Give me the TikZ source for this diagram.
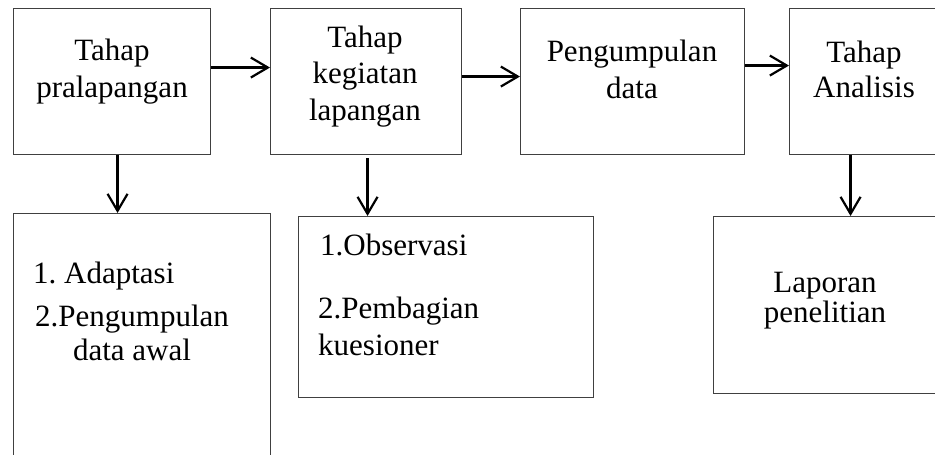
\documentclass[tikz,border=0pt]{standalone}
\usepackage{fontspec}
\setmainfont{Liberation Serif}
\usetikzlibrary{arrows.meta, positioning, calc}
\frenchspacing

\begin{document}
\begin{tikzpicture}[
    x=1pt, y=-1pt,
    box/.style={rectangle, draw=black!75, line width=1.1pt, inner sep=0pt, anchor=north west},
    txt/.style={inner sep=0pt, anchor=base, align=center, font=\fontsize{31}{37}\selectfont},
    ltxt/.style={txt, anchor=base west, align=left},
    arr/.style={-{Straight Barb[length=17pt, width=20pt]}, line width=2.2pt},
]
    \useasboundingbox (0,0) rectangle (935,455);
    \clip (0,0) rectangle (935,455);

    % Tahap (top row)
    \node[box, minimum width=197pt, minimum height=146pt] (pra) at (13,8) {};
    \node[box, minimum width=191pt, minimum height=146pt] (keg) at (270,8) {};
    \node[box, minimum width=224pt, minimum height=146pt] (kum) at (520,8) {};
    \node[box, minimum width=150pt, minimum height=146pt] (ana) at (789,8) {};

    % (base = last line)
    \node[txt] (praT) at (112,97) {Tahap\\pralapangan};
    \node[txt, font=\fontsize{31}{36.5}\selectfont] (kegT) at (365,120) {Tahap\\kegiatan\\lapangan};
    \node[txt] (kumT) at (632,98) {Pengumpulan\\data};
    \node[txt, font=\fontsize{31}{35}\selectfont] (anaT) at (864,97) {Tahap\\Analisis};

    % Hasil (bottom row)
    \node[box, minimum width=257pt, minimum height=260pt] (ada) at (13,213) {};
    \node[box, minimum width=295pt, minimum height=181pt] (obs) at (298,216) {};
    \node[box, minimum width=224pt, minimum height=177pt] (lap) at (713,216) {};

    \node[ltxt] (adaA) at (33,283) {1. Adaptasi};
    \node[txt, font=\fontsize{31}{34}\selectfont] (adaB) at (132,360) {2.Pengumpulan\\data awal};
    \node[ltxt] (obsA) at (320,255) {1.Observasi};
    \node[ltxt] (obsB) at (318,355) {2.Pembagian\\kuesioner};
    \node[txt, font=\fontsize{31}{29.5}\selectfont] (lapT) at (825,322) {Laporan\\penelitian};

    % Arrows
    \draw[arr] ([yshift=14pt]pra.east) -- ([yshift=14pt]pra.east -| keg.west);
    \draw[arr] ([yshift=5pt]keg.east) -- ([yshift=5pt]keg.east -| kum.west);
    \draw[arr] ([yshift=16pt]kum.east) -- ([yshift=16pt]kum.east -| ana.west);
    \draw[arr] ([xshift=5.5pt]pra.south) -- ([xshift=5.5pt]pra.south |- ada.north);
    \draw[arr] ([xshift=1.5pt, yshift=-3pt]keg.south) -- ([xshift=1.5pt]keg.south |- obs.north);
    \draw[arr] ([xshift=-14pt]ana.south) -- ([xshift=-14pt]ana.south |- lap.north);
\end{tikzpicture}
\end{document}
